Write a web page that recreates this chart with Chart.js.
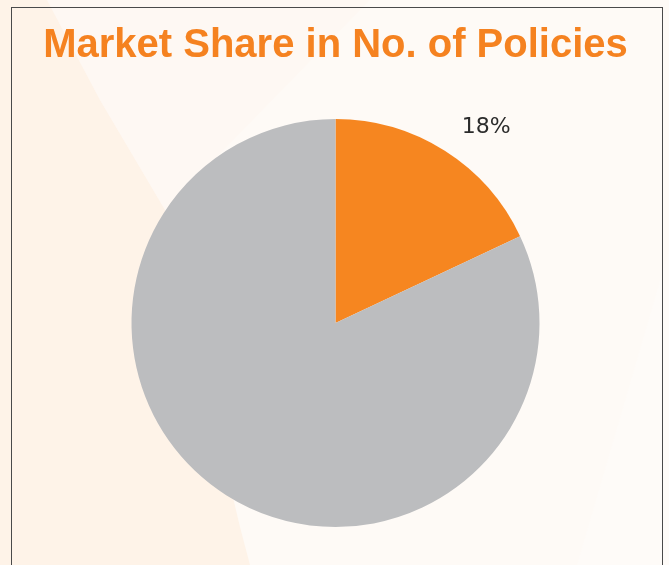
<!DOCTYPE html>
<html>
<head>
<meta charset="utf-8">
<script src="https://cdn.jsdelivr.net/npm/chart.js@4/dist/chart.umd.min.js"></script>
<style>
    html, body { margin: 0; padding: 0; }
    body { width: 669px; height: 565px; overflow: hidden; position: relative; background: #fefaf6; }
    #bg { position: absolute; left: 0; top: 0; }
    #frame { position: absolute; left: 11px; top: 7px; width: 650px; height: 600px; border: 1.5px solid #4a4a4a; border-bottom: none; }
    #marketChart { position: absolute; left: 0; top: 0; }
</style>
</head>
<body>
<svg id="bg" width="669" height="565">
    <polygon points="47,0 370,0 165,210 100,100" fill="#fef8f3"/>
    <polygon points="0,0 47,0 100,100 165,210 240,527 250,565 0,565" fill="#fef3e8"/>
    <polygon points="669,250 669,565 577,565" fill="#fefbf8"/>
</svg>
<div id="frame"></div>
<canvas id="marketChart" width="669" height="565"></canvas>
<script>
    const categories = ['Company', 'Others'];
    const shareValues = [18, 82];
    const sliceColors = ['#f68620', '#bcbdbf'];
    const shownLabels = ['18%', ''];

    // label outside the slice, nearest corner anchored near the mid angle
    const outsideLabels = {
        id: 'outsideLabels',
        afterDatasetsDraw(chart) {
            const ctx = chart.ctx;
            const arcs = chart.getDatasetMeta(0).data;
            ctx.save();
            ctx.font = '22px "DejaVu Sans", sans-serif';
            ctx.fillStyle = '#2b2b2b';
            arcs.forEach(function(arc, i) {
                if (!shownLabels[i]) return;
                const p = arc.getProps(['x', 'y', 'startAngle', 'endAngle', 'outerRadius'], true);
                const mid = (p.startAngle + p.endAngle) / 2;
                const r = p.outerRadius + 24;
                const x = p.x + Math.cos(mid) * r + 4;
                const y = p.y + Math.sin(mid) * r + 3;
                ctx.textAlign = Math.cos(mid) >= 0 ? 'left' : 'right';
                ctx.textBaseline = Math.sin(mid) <= 0 ? 'alphabetic' : 'top';
                ctx.fillText(shownLabels[i], x, y);
            });
            ctx.restore();
        }
    };

    const marketCtx = document.getElementById('marketChart').getContext('2d');
    new Chart(marketCtx, {
        type: 'pie',
        data: {
            labels: categories,
            datasets: [{
                data: shareValues,
                backgroundColor: sliceColors,
                borderWidth: 0
            }]
        },
        options: {
            responsive: false,
            animation: false,
            layout: {
                padding: { left: 2, right: 0, top: 0, bottom: 38 }
            },
            plugins: {
                legend: {
                    display: false
                },
                tooltip: {
                    enabled: false
                },
                title: {
                    display: true,
                    text: 'Market Share in No. of Policies',
                    color: '#f58220',
                    font: { family: '"Liberation Sans", Arial, sans-serif', size: 40, weight: 'bold', lineHeight: 1.2 },
                    padding: { top: 22, bottom: 49 }
                }
            }
        },
        plugins: [outsideLabels]
    });
</script>
</body>
</html>
